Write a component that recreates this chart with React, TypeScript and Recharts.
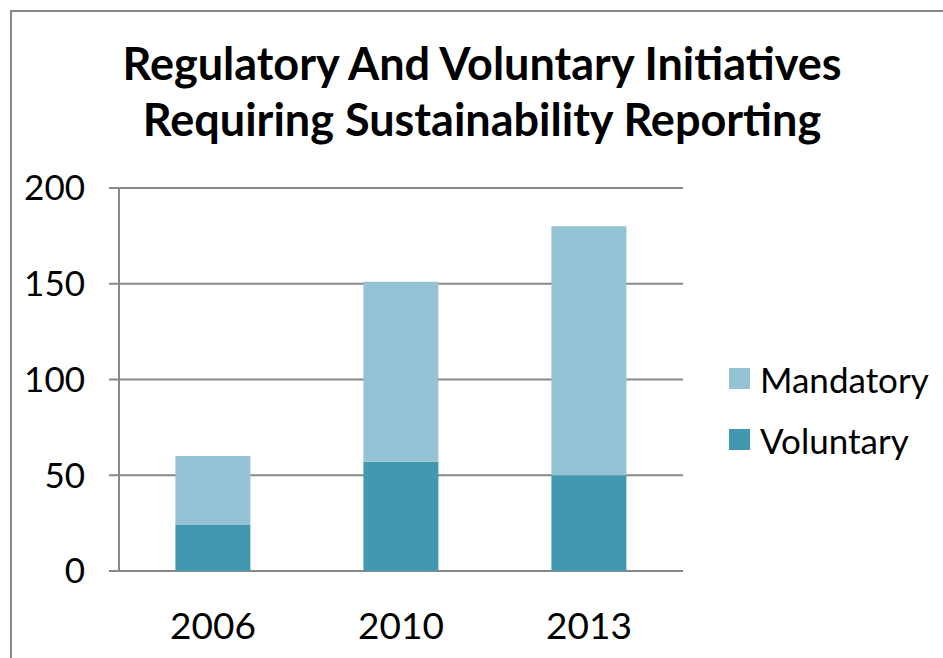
import React from "react";
import { BarChart, Bar, XAxis, YAxis, CartesianGrid } from "recharts";

const years = ["2006", "2010", "2013"];
const voluntary = [24, 57, 50];
const mandatory = [36, 94, 130];
const yTicks = [0, 50, 100, 150, 200];
const bandEdges = [0, 1, 2, 3];

const data = years.map((year, i) => ({
  year,
  voluntary: voluntary[i],
  mandatory: mandatory[i],
}));

const FONT = "Lato, 'Open Sans', sans-serif";
const AXIS = "#888888";
const LIGHT = "#93C3D4";
const DARK = "#4298AF";

const legendItems = [
  { label: "Mandatory", color: LIGHT },
  { label: "Voluntary", color: DARK },
];

function LegendBox() {
  return (
    <div style={{ position: "absolute", left: 729, top: 348, fontFamily: FONT, fontSize: 35, color: "#000" }}>
      {legendItems.map((item) => (
        <div key={item.label} style={{ display: "flex", alignItems: "center", height: 61 }}>
          <span style={{ width: 21, height: 21, background: item.color, marginRight: 10 }} />
          <span>{item.label}</span>
        </div>
      ))}
    </div>
  );
}

export default function App() {
  return (
    <div style={{ position: "absolute", left: 0, top: 0, width: 943, height: 658, overflow: "hidden", background: "#fff" }}>
      <div
        style={{
          position: "absolute",
          left: 10,
          top: 10,
          width: 1000,
          height: 1000,
          borderLeft: `2px solid ${AXIS}`,
          borderTop: `2px solid ${AXIS}`,
        }}
      />
      <div
        style={{
          position: "absolute",
          left: 0,
          top: 35,
          width: 964,
          textAlign: "center",
          fontFamily: FONT,
          fontWeight: 700,
          fontSize: 45,
          lineHeight: "56px",
          color: "#000",
        }}
      >
        Regulatory And Voluntary Initiatives
        <br />
        Requiring Sustainability Reporting
      </div>
      <BarChart
        width={943}
        height={658}
        data={data}
        margin={{ top: 188, right: 260, left: 0, bottom: 0 }}
        barCategoryGap="30%"
        style={{ position: "absolute", left: 0, top: 0 }}
      >
        <CartesianGrid vertical={false} stroke={AXIS} strokeWidth={2} />
        <XAxis
          xAxisId="edges"
          type="number"
          domain={[0, 3]}
          ticks={bandEdges}
          height={0}
          tick={false}
          tickSize={13}
          tickLine={{ stroke: AXIS, strokeWidth: 2 }}
          axisLine={{ stroke: AXIS, strokeWidth: 2 }}
        />
        <XAxis
          dataKey="year"
          height={87}
          tickLine={false}
          axisLine={false}
          tickSize={0}
          tickMargin={42}
          tick={{ fill: "#000", fontSize: 37, fontFamily: FONT }}
        />
        <YAxis
          width={119}
          domain={[0, 200]}
          ticks={yTicks}
          tickSize={10}
          tickMargin={24}
          tickLine={{ stroke: AXIS, strokeWidth: 2 }}
          axisLine={{ stroke: AXIS, strokeWidth: 2 }}
          tick={{ fill: "#000", fontSize: 35, fontFamily: FONT }}
        />
        <Bar dataKey="voluntary" stackId="a" fill={DARK} isAnimationActive={false} />
        <Bar dataKey="mandatory" stackId="a" fill={LIGHT} isAnimationActive={false} />
      </BarChart>
      <LegendBox />
    </div>
  );
}
